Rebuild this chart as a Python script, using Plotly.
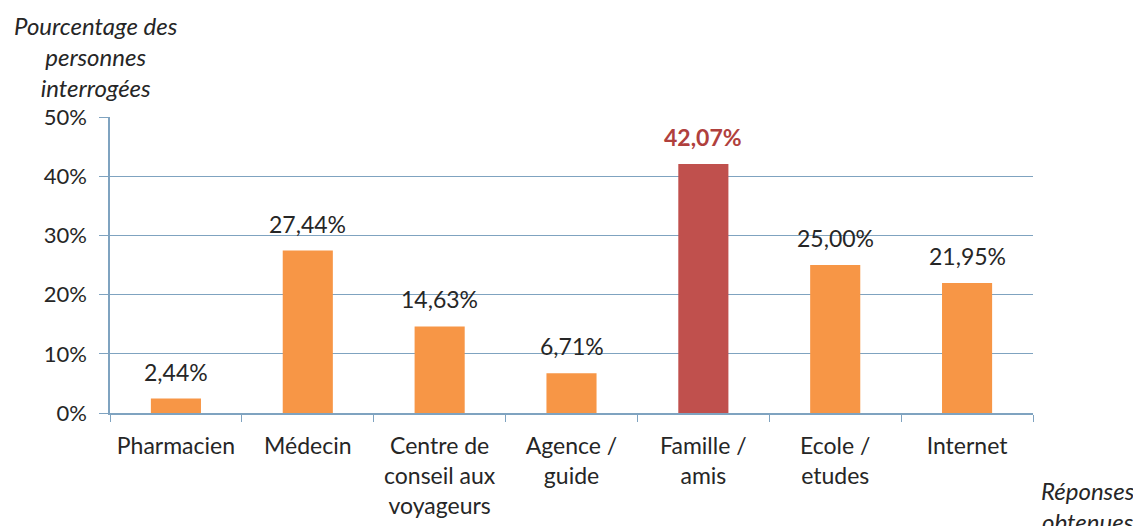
import plotly.graph_objects as go

# Data
categories = [
    "Pharmacien",
    "Médecin",
    "Centre de<br>conseil aux<br>voyageurs",
    "Agence /<br>guide",
    "Famille /<br>amis",
    "Ecole /<br>etudes",
    "Internet",
]
values = [2.44, 27.44, 14.63, 6.71, 42.07, 25.00, 21.95]
highlight = "Famille /<br>amis"

ORANGE = "#f79646"
RED = "#c0504d"
TEXT = "#262626"
GRID = "#7fa3c0"
FONT = "Lato, 'Open Sans', sans-serif"

bar_colors = [RED if c == highlight else ORANGE for c in categories]
labels = [f"{v:.2f}%".replace(".", ",") for v in values]

fig = go.Figure()
fig.add_trace(
    go.Bar(
        x=categories,
        y=values,
        marker=dict(color=bar_colors, line=dict(width=0)),
        cliponaxis=False,
    )
)

# value labels sit a little higher above the bars than plotly's default text
for cat, val, lab in zip(categories, values, labels):
    is_hl = cat == highlight
    fig.add_annotation(
        x=cat, y=val,
        text=f"<b>{lab}</b>" if is_hl else lab,
        showarrow=False, yanchor="bottom", yshift=11,
        font=dict(size=23, color="#b0403d" if is_hl else TEXT),
    )

# page body has an 8px margin, so the margins are offset to match the reference
fig.update_layout(
    width=1141,
    height=526,
    margin=dict(l=102, r=116, t=109, b=121),
    plot_bgcolor="white",
    paper_bgcolor="white",
    showlegend=False,
    bargap=0.62,
    font=dict(family=FONT, size=23, color=TEXT),
)

fig.update_yaxes(
    range=[0, 50],
    tickvals=[0, 10, 20, 30, 40, 50],
    ticktext=["0%", "10%", "20%", "30%", "40%", "50%"],
    showgrid=True,
    gridcolor=GRID,
    gridwidth=1,
    showline=True,
    linecolor=GRID,
    linewidth=1.5,
    ticks="outside",
    ticklen=9,
    tickcolor=GRID,
    ticklabelstandoff=8,
    zeroline=False,
    tickfont=dict(size=22),
)
fig.update_xaxes(
    showline=True,
    linecolor=GRID,
    linewidth=1.5,
    ticks="outside",
    ticklen=7,
    tickcolor=GRID,
    tickson="boundaries",
    ticklabelstandoff=12,
    tickfont=dict(size=23),
)

# Axis titles placed like the original
fig.add_annotation(
    text="<i>Pourcentage des<br>personnes<br>interrogées</i>",
    xref="paper", yref="paper",
    x=-0.015, y=1.0, xanchor="center", yanchor="bottom",
    yshift=13, showarrow=False,
    font=dict(size=24, color=TEXT),
)
fig.add_annotation(
    text="<i>Réponses<br>obtenues</i>",
    xref="paper", yref="paper",
    x=1.06, y=-0.205, xanchor="center", yanchor="top",
    showarrow=False,
    font=dict(size=24, color=TEXT),
)

fig.write_html("out.html")
